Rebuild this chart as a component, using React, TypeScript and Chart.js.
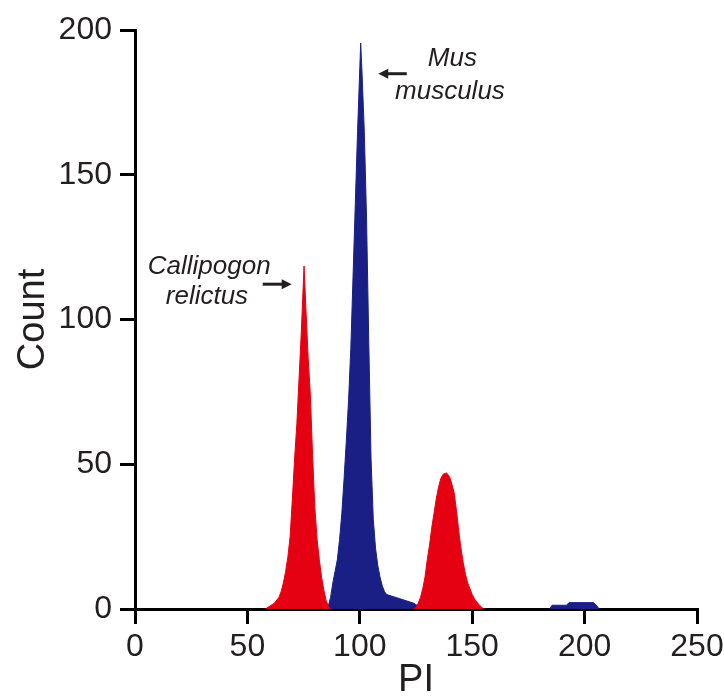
import React, { useEffect, useRef } from "react";
import { Chart, registerables } from "chart.js";

Chart.register(...registerables);

// Red peak 1 (Callipogon relictus G1)
const red1X = [58, 60, 62, 64, 65, 66, 67, 68, 69, 70, 71, 72, 73, 74, 75.2, 76, 77, 78, 79, 80, 81, 82, 83, 84, 85, 86, 87];
const red1Y = [0, 1, 2, 4, 6, 9, 13, 18, 25, 38, 52, 64, 80, 96, 118.5, 104, 87, 74, 53, 35, 24, 17, 11, 6.5, 3, 1, 0];

// Blue main peak (Mus musculus G1)
const blue1X = [85, 86, 87, 88, 89, 90, 91, 92, 93, 94, 95, 96, 97, 98, 99, 100.4, 101, 102, 103, 104, 105, 106, 107, 108, 109, 110, 111, 112, 114, 116, 118, 120, 122, 124, 126, 127, 128];
const blue1Y = [0, 1, 4, 9, 13, 17, 24, 33, 45, 58, 72, 90, 115, 140, 165, 195.5, 185, 165, 135, 92, 52, 31, 21, 15, 11, 8, 6, 5, 4.5, 4, 3.5, 3, 2.5, 2, 1, 0.5, 0];

// Red peak 2 (Callipogon relictus G2)
const red2X = [124, 125, 126, 127, 128, 129, 130, 131, 132, 133, 134, 135, 136, 137, 138.6, 140, 141, 142, 143, 144, 145, 146, 147, 148, 149, 150, 151, 152, 153, 154, 155];
const red2Y = [0, 0.5, 2, 4, 7, 11, 17, 22, 28, 33, 38, 42, 45, 46.5, 47, 45.5, 43, 40, 34, 27, 21, 16, 12, 9, 7, 5, 3.5, 2.5, 1.5, 0.8, 0];

// Blue small peak (Mus musculus G2)
const blue2X = [184.5, 185.5, 192, 193, 204, 205.5, 206.5];
const blue2Y = [0, 1.3, 1.3, 2.2, 2.2, 1, 0];

const xTicks = [0, 50, 100, 150, 200, 250];
const yTicks = [0, 50, 100, 150, 200];

const RED = "#E50012";
const BLUE = "#1A1F86";
const TEXT = "#231F20";
const FONT = "'Liberation Sans', Arial, sans-serif";

const toPoints = (xs: number[], ys: number[]) => xs.map((x, i) => ({ x, y: ys[i] }));

const annotationPlugin = {
  id: "annots",
  afterDraw(chart: any) {
    const { ctx } = chart;
    const xs = chart.scales.x;
    const ys = chart.scales.y;
    const px = (v: number) => xs.getPixelForValue(v);
    const py = (v: number) => ys.getPixelForValue(v);
    ctx.save();
    ctx.fillStyle = TEXT;
    ctx.strokeStyle = TEXT;
    ctx.font = `italic 26px ${FONT}`;
    ctx.textAlign = "center";
    ctx.textBaseline = "middle";
    ctx.fillText("Callipogon", px(33.0), py(118.2));
    ctx.fillText("relictus", px(32.0), py(108.0));
    ctx.fillText("Mus", px(141.2), py(190.0));
    ctx.fillText("musculus", px(140.1), py(178.6));

    const arrow = (x1: number, x2: number, y: number) => {
      const X1 = px(x1), X2 = px(x2), Y = py(y);
      const dir = Math.sign(X2 - X1);
      const head = 10;
      ctx.lineWidth = 3;
      ctx.beginPath();
      ctx.moveTo(X1, Y);
      ctx.lineTo(X2 - dir * head * 0.8, Y);
      ctx.stroke();
      ctx.beginPath();
      ctx.moveTo(X2, Y);
      ctx.lineTo(X2 - dir * head, Y - 5);
      ctx.lineTo(X2 - dir * head, Y + 5);
      ctx.closePath();
      ctx.fill();
    };
    arrow(56.8, 69.7, 112.2);
    arrow(120.9, 108.2, 184.9);
    ctx.restore();
  },
};

export default function App() {
  const ref = useRef<HTMLCanvasElement>(null);
  useEffect(() => {
    document.body.style.margin = "0";
    const ds = (xs: number[], ys: number[], color: string) => ({
      data: toPoints(xs, ys),
      backgroundColor: color,
      borderColor: color,
      borderWidth: 1,
      pointRadius: 0,
      tension: 0,
      fill: "origin",
    });
    const chart = new Chart(ref.current!, {
      type: "line",
      data: {
        datasets: [
          ds(red1X, red1Y, RED),
          ds(red2X, red2Y, RED),
          ds(blue1X, blue1Y, BLUE),
          ds(blue2X, blue2Y, BLUE),
        ] as any,
      },
      options: {
        animation: false,
        responsive: false,
        events: [],
        layout: { padding: { left: 0, right: 27, top: 30, bottom: 0 } },
        plugins: { legend: { display: false }, tooltip: { enabled: false } },
        scales: {
          x: {
            type: "linear",
            min: 0,
            max: 250,
            afterBuildTicks: (s: any) => {
              s.ticks = xTicks.map((v) => ({ value: v }));
            },
            ticks: { color: TEXT, font: { family: FONT, size: 32 }, padding: 4, maxRotation: 0 },
            border: { display: true, color: "#000", width: 3 },
            grid: { display: true, drawOnChartArea: false, drawTicks: true, tickLength: 15, color: "#000", lineWidth: 3 },
            title: { display: true, text: "PI", color: TEXT, font: { family: FONT, size: 38, lineHeight: 0.9 }, padding: 0 },
            afterFit: (s: any) => {
              s.height = 89;
              s.paddingLeft = 0;
              s.paddingRight = 0;
            },
          },
          y: {
            type: "linear",
            min: 0,
            max: 200,
            afterBuildTicks: (s: any) => {
              s.ticks = yTicks.map((v) => ({ value: v }));
            },
            ticks: { color: TEXT, font: { family: FONT, size: 32 }, padding: 8 },
            border: { display: true, color: "#000", width: 3 },
            grid: { display: true, drawOnChartArea: false, drawTicks: true, tickLength: 15, color: "#000", lineWidth: 3 },
            title: { display: true, text: "Count", color: TEXT, font: { family: FONT, size: 38, lineHeight: 1 }, padding: 15 },
            afterFit: (s: any) => {
              s.width = 135;
              s.paddingTop = 0;
              s.paddingBottom = 0;
            },
          },
        },
      } as any,
      plugins: [annotationPlugin],
    });
    return () => chart.destroy();
  }, []);
  return (
    <div style={{ width: 724, height: 698 }}>
      <canvas ref={ref} width={724} height={698} style={{ display: "block", width: 724, height: 698 }} />
    </div>
  );
}
